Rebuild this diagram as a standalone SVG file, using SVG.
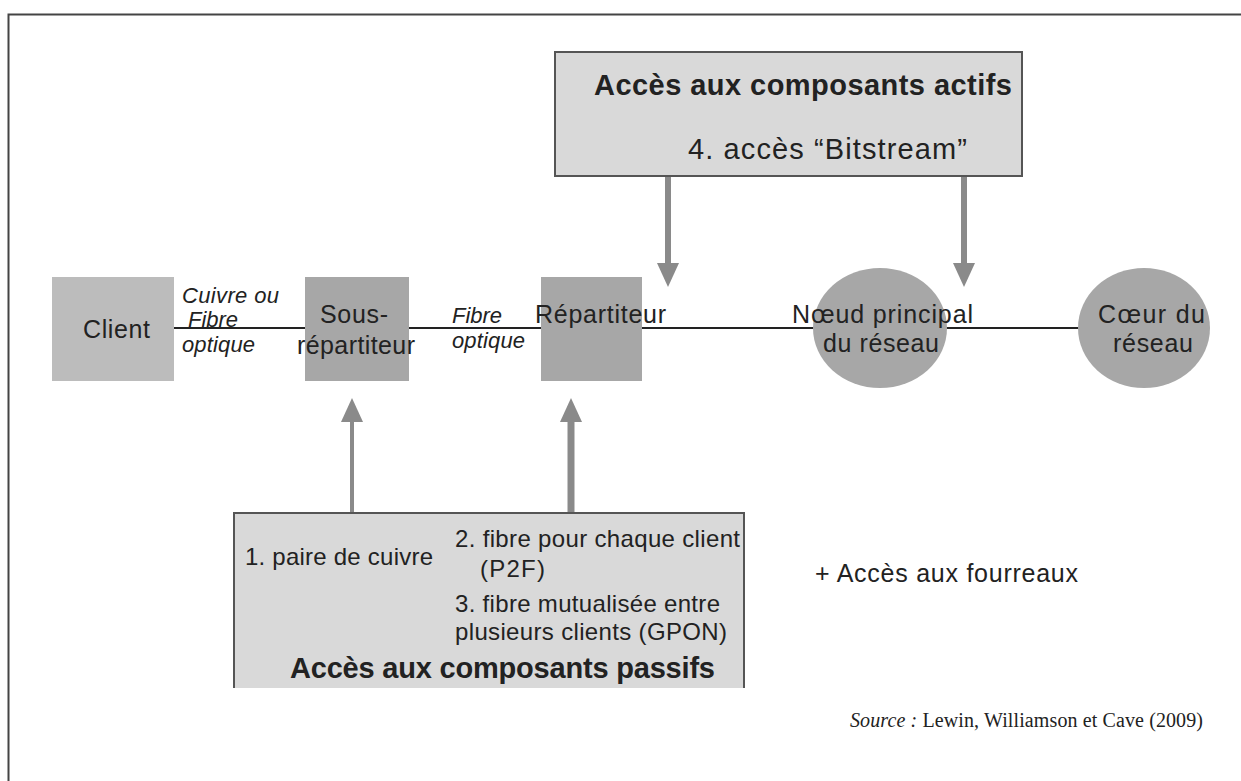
<svg xmlns="http://www.w3.org/2000/svg" width="1241" height="781" viewBox="0 0 1241 781">
<style>
  .t{font-family:"Liberation Sans",Arial,sans-serif;fill:#222}
  .n{font-size:25px}
  .i{font-size:22px;font-style:italic}
  .s{font-size:24px}
  .b{font-size:29px;font-weight:bold}
  .acc{fill:#d9d9d9;stroke:#555;stroke-width:2}
  .box{fill:#a7a7a7}
  .arr{stroke:#8a8a8a;fill:none}
</style>
<defs>
  <marker id="ah" viewBox="0 0 24 22" markerWidth="24" markerHeight="22" refX="12" refY="11" orient="auto" markerUnits="userSpaceOnUse">
    <path d="M0,0 L24,11 L0,22 Z" fill="#8a8a8a"/>
  </marker>
</defs>
<rect width="1241" height="781" fill="#fff"/>
<path d="M1241 14.5 H8.5 V781" fill="none" stroke="#444" stroke-width="2"/>

<g id="connectors">
  <line x1="174" y1="328" x2="1080" y2="328" stroke="#222" stroke-width="2"/>
  <line class="arr" x1="668" y1="176" x2="668" y2="275" stroke-width="6" marker-end="url(#ah)"/>
  <line class="arr" x1="964" y1="176" x2="964" y2="275" stroke-width="6" marker-end="url(#ah)"/>
  <line class="arr" x1="352" y1="513" x2="352" y2="410" stroke-width="4" marker-end="url(#ah)"/>
  <line class="arr" x1="571" y1="513" x2="571" y2="410" stroke-width="7" marker-end="url(#ah)"/>
  <text class="t i" x="182" y="303" textLength="97">Cuivre ou</text>
  <text class="t i" x="188" y="327" textLength="50">Fibre</text>
  <text class="t i" x="182" y="352" textLength="73">optique</text>
  <text class="t i" x="452" y="323" textLength="50">Fibre</text>
  <text class="t i" x="452" y="348" textLength="73">optique</text>
</g>

<g id="actifs">
  <rect class="acc" x="555" y="52" width="467" height="124"/>
  <text class="t b" x="594" y="95" textLength="418">Accès aux composants actifs</text>
  <text class="t" x="688" y="159" font-size="29" textLength="279">4. accès “Bitstream”</text>
</g>

<g id="client">
  <rect x="52" y="277" width="122" height="104" fill="#bcbcbc"/>
  <text class="t n" x="83" y="338" textLength="67">Client</text>
</g>

<g id="sous-repartiteur">
  <rect class="box" x="305" y="277" width="104" height="104"/>
  <text class="t n" x="320" y="323" textLength="68">Sous-</text>
  <text class="t n" x="297" y="354" textLength="118">répartiteur</text>
</g>

<g id="repartiteur">
  <rect class="box" x="541" y="277" width="101" height="104"/>
  <text class="t n" x="535" y="323" textLength="131">Répartiteur</text>
</g>

<g id="noeud">
  <ellipse class="box" cx="880" cy="328" rx="67" ry="60"/>
  <text class="t n" x="792" y="323" textLength="181">Nœud principal</text>
  <text class="t n" x="823" y="352" textLength="116">du réseau</text>
</g>

<g id="coeur">
  <ellipse class="box" cx="1144" cy="328" rx="66" ry="60"/>
  <text class="t n" x="1098" y="323" textLength="107">Cœur du</text>
  <text class="t n" x="1113" y="352" textLength="80">réseau</text>
</g>

<g id="passifs">
  <rect x="234" y="513" width="510" height="175" fill="#d9d9d9"/>
  <path d="M234 688 V513 H744 V688" fill="none" stroke="#555" stroke-width="2"/>
  <text class="t s" x="245" y="565" textLength="188">1. paire de cuivre</text>
  <text class="t s" x="455" y="547" textLength="285">2. fibre pour chaque client</text>
  <text class="t s" x="480" y="577" textLength="65">(P2F)</text>
  <text class="t s" x="455" y="612" textLength="265">3. fibre mutualisée entre</text>
  <text class="t s" x="455" y="640" textLength="272">plusieurs clients (GPON)</text>
  <text class="t b" x="290" y="678" textLength="425">Accès aux composants passifs</text>
</g>

<g id="fourreaux">
  <text class="t" x="815" y="582" font-size="25" textLength="263">+ Accès aux fourreaux</text>
</g>

<g id="source">
  <text x="850" y="727" font-family="'Liberation Serif','Times New Roman',serif" font-size="20" fill="#222" textLength="353"><tspan font-style="italic">Source :</tspan> Lewin, Williamson et Cave (2009)</text>
</g>
</svg>
